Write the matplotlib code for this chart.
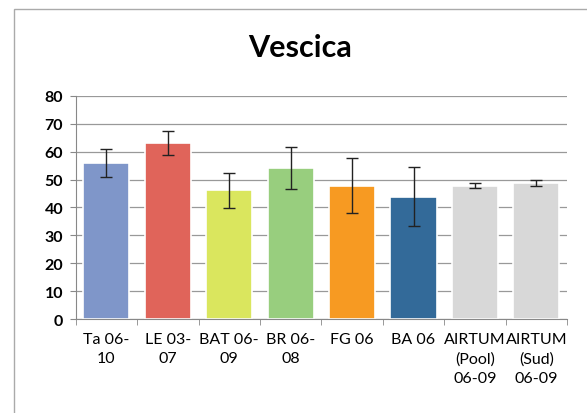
import numpy as np
import matplotlib.pyplot as plt
from matplotlib.patches import Rectangle

# dati
labels = ['Ta 06-\n10', 'LE 03-\n07', 'BAT 06-\n09', 'BR 06-\n08', 'FG 06', 'BA 06',
          'AIRTUM\n(Pool)\n06-09', 'AIRTUM\n(Sud)\n06-09']
values = [56, 63, 46.2, 54, 47.8, 43.8, 47.8, 48.7]
errors = [5, 4.3, 6.3, 7.5, 9.8, 10.6, 0.8, 1.0]
colors = ['#7F96C9', '#E0645A', '#DAE65E', '#98CE7E', '#F79A22', '#336A99', '#D8D8D8', '#D8D8D8']

plt.rcParams['font.family'] = ['Lato', 'DejaVu Sans']

fig = plt.figure(figsize=(5.87, 4.14), dpi=100)
ax = fig.add_axes([0.129, 0.227, 0.837, 0.539])

x = np.arange(len(labels))
ax.bar(x, values, width=0.75, color=colors, edgecolor='white', linewidth=1.2, zorder=2)
ax.errorbar(x, values, yerr=errors, fmt='none', ecolor='#222222', elinewidth=1,
            capsize=4, capthick=1, zorder=3)

ax.set_xlim(-0.5, len(labels) - 0.5)
ax.set_ylim(0, 80)
ax.set_yticks(range(0, 81, 10))
ax.yaxis.grid(True, color='#999999', linewidth=0.9, zorder=0)
ax.set_axisbelow(True)

ax.set_xticks(x)
ax.set_xticklabels(labels, fontsize=11.5, linespacing=1.5)
ax.tick_params(axis='x', length=0, pad=9)
ax.set_xticks(np.arange(-0.5, len(labels), 1), minor=True)
ax.tick_params(axis='x', which='minor', length=4, color='#888888')
ax.tick_params(axis='y', labelsize=11.5, length=4, color='#888888', pad=5)
for t in ax.get_yticklabels():
    t.set_fontweight('bold')

for s in ['top', 'right']:
    ax.spines[s].set_visible(False)
ax.spines['left'].set_color('#888888')
ax.spines['bottom'].set_color('#888888')

fig.text(0.511, 0.884, 'Vescica', ha='center', va='center', fontsize=22, fontweight='bold')

# cornice del grafico
fig.patches.append(Rectangle((0.024, -0.05), 1.0, 1.026, transform=fig.transFigure,
                             fill=False, edgecolor='#AAAAAA', linewidth=1.0))

fig.savefig('out.png', dpi=100)
